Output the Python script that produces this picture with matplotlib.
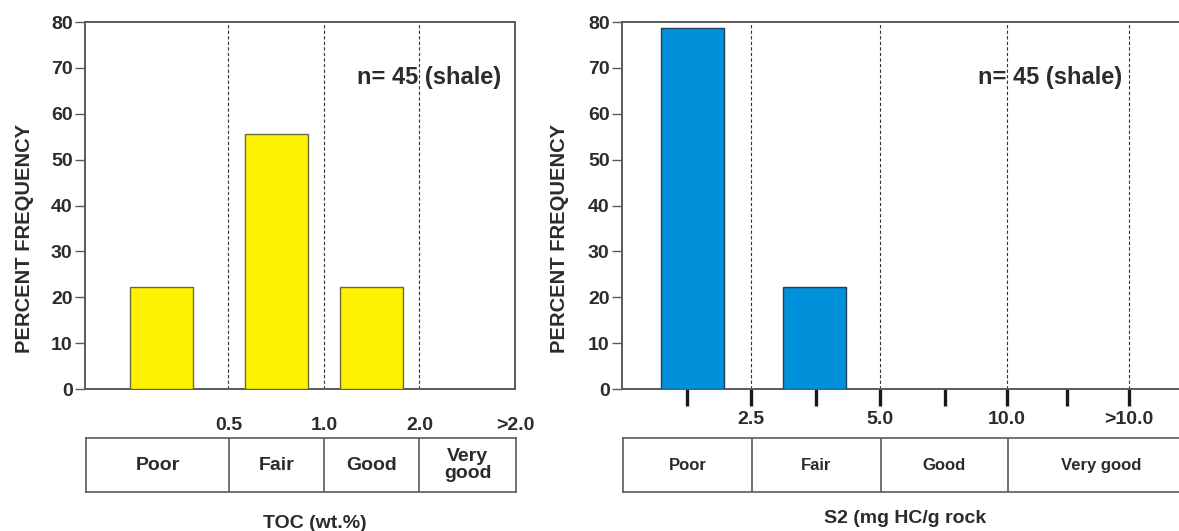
import matplotlib.pyplot as plt

plt.rcParams['font.family'] = ['Liberation Sans', 'DejaVu Sans']
plt.rcParams['font.weight'] = 'bold'

# data ---------------------------------------------------------------
toc_classes = ['Poor', 'Fair', 'Good', 'Very\ngood']
toc_pos = [0.8, 2.0, 3.0]
toc_pct = [22.2, 55.5, 22.2]
toc_bounds = [1.5, 2.5, 3.5]
toc_labels = ['0.5', '1.0', '2.0', '>2.0']

s2_classes = ['Poor', 'Fair', 'Good', 'Very good']
s2_pos = [1.09, 2.98]
s2_pct = [78.8, 22.2]
s2_bounds = [2.0, 4.0, 5.97, 7.86]
s2_ticks = [1, 2, 3, 4, 5, 5.97, 6.9, 7.86]
s2_ticklabels = ['', '2.5', '', '5.0', '', '10.0', '', '>10.0']

TXT = '#2b2b2b'
LINE = '#5a5a5a'

fig = plt.figure(figsize=(11.79, 5.31), dpi=100)


def frame_axes(ax, xmax, right_spine=True):
    ax.set_xlim(0, xmax)
    ax.set_ylim(0, 80)
    ax.set_yticks(range(0, 81, 10))
    for sp in ax.spines.values():
        sp.set_color(LINE)
        sp.set_linewidth(1.4)
    ax.spines['right'].set_visible(right_spine)
    ax.tick_params(axis='y', direction='out', length=7, width=1, color=LINE,
                   labelsize=14, labelcolor=TXT, pad=2)
    for lb in ax.get_yticklabels():
        lb.set_fontweight('bold')
    ax.set_ylabel('PERCENT FREQUENCY', fontsize=14.5, fontweight='bold', color=TXT)


def class_table(ax, xmin, xmax, bounds):
    ax.set_xlim(xmin, xmax)
    ax.set_ylim(0, 1)
    ax.set_xticks([])
    ax.set_yticks([])
    for sp in ax.spines.values():
        sp.set_color(LINE)
        sp.set_linewidth(1.2)
    for b in bounds:
        ax.axvline(b, color=LINE, lw=1.2)
    return [0] + list(bounds) + [xmax]


# left panel: TOC ------------------------------------------------------
ax1 = fig.add_axes([0.0721, 0.2674, 0.3647, 0.6911])
frame_axes(ax1, 4.5)
ax1.yaxis.set_label_coords(-0.119, 0.41)
ax1.bar(toc_pos, toc_pct, width=0.66, color='#fff200', edgecolor='#6a6a3a', lw=1, zorder=3)
for b in toc_bounds:
    ax1.axvline(b, color='#333333', lw=0.8, ls=(0, (3, 2)), zorder=1)
ax1.set_xticks(toc_bounds + [4.5])
ax1.set_xticklabels(toc_labels)
ax1.tick_params(axis='x', length=0, pad=20, labelsize=14, labelcolor=TXT)
for lb in ax1.get_xticklabels():
    lb.set_fontweight('bold')
ax1.text(3.6, 68, 'n= 45 (shale)', fontsize=17, fontweight='bold', color=TXT,
         ha='center', va='center')

t1 = fig.add_axes([0.0730, 0.0734, 0.3647, 0.1017])
edges = class_table(t1, 0, 4.52, toc_bounds)
for i, name in enumerate(toc_classes):
    t1.text((edges[i] + edges[i + 1]) / 2, 0.5, name, ha='center', va='center',
            fontsize=14, fontweight='bold', color=TXT, linespacing=0.95)
fig.text(0.267, 0.015, 'TOC (wt.%)', ha='center', va='center', fontsize=14,
         fontweight='bold', color=TXT)

# right panel: S2 ------------------------------------------------------
ax2 = fig.add_axes([0.5276, 0.2674, 0.4814, 0.6911])
frame_axes(ax2, 8.8, right_spine=False)
ax2.yaxis.set_label_coords(-0.093, 0.41)
ax2.bar(s2_pos, s2_pct, width=0.98, color='#0091da', edgecolor='#1f3f5a', lw=1, zorder=3)
for b in s2_bounds:
    ax2.axvline(b, color='#333333', lw=0.8, ls=(0, (3, 2)), zorder=1)
ax2.set_xticks(s2_ticks)
ax2.set_xticklabels(s2_ticklabels)
ax2.tick_params(axis='x', direction='out', length=12, width=2.4, color='#1a1a1a',
                pad=4, labelsize=14, labelcolor=TXT)
for lb in ax2.get_xticklabels():
    lb.set_fontweight('bold')
ax2.text(6.64, 68, 'n= 45 (shale)', fontsize=17, fontweight='bold', color=TXT,
         ha='center', va='center')

t2 = fig.add_axes([0.5284, 0.0734, 0.4814, 0.1017])
edges = class_table(t2, 0, 8.8, s2_bounds[:3])
edges[-1] = 8.85
for i, name in enumerate(s2_classes):
    t2.text((edges[i] + edges[i + 1]) / 2, 0.5, name, ha='center', va='center',
            fontsize=12, fontweight='bold', color=TXT)
fig.text(0.768, 0.024, 'S2 (mg HC/g rock', ha='center', va='center', fontsize=14,
         fontweight='bold', color=TXT)

fig.savefig('out.png', dpi=100, facecolor='white')
